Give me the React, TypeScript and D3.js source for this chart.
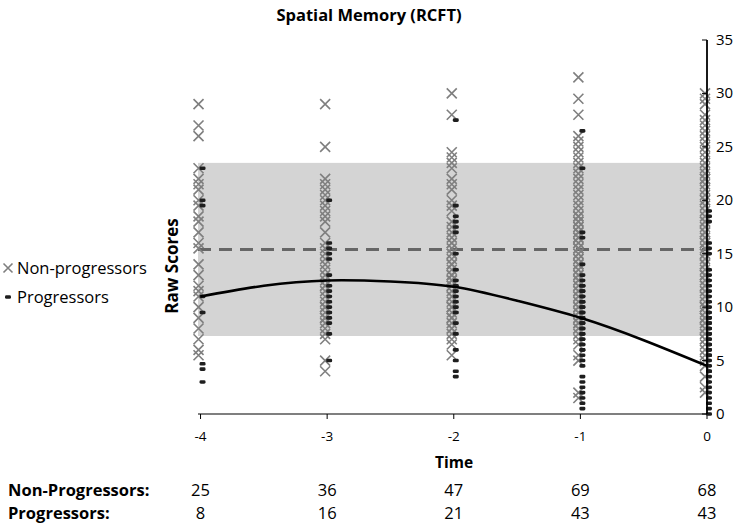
import React from "react";
import * as d3 from "d3";

const TIMES = [-4, -3, -2, -1, 0];
const Y_TICKS = [0, 5, 10, 15, 20, 25, 30, 35];

const NP_M4 = [29, 27, 26, 23, 22, 21.5, 21, 20, 19.5, 18.5, 18, 17, 16, 15.5, 14, 13, 12, 11.5, 11, 10, 9, 8, 7, 6, 5.5];
const NP_M3 = [29, 25, 22, 21.5, 21, 20.5, 20, 19.5, 19, 18.5, 18, 17, 16, 15.5, 15, 14.5, 14, 13.5, 13, 12.5, 12, 12, 11.5, 11, 10.5, 10, 10, 9.5, 9, 9, 8.5, 8, 7, 5, 4, 7.5];
const NP_M2 = [30, 28, 24.5, 24, 23.5, 23, 22, 21.5, 21, 19.5, 19, 18, 17.5, 17, 16.5, 16, 15.5, 15, 15, 14.5, 14, 14, 13.5, 13, 13, 12.5, 12, 12, 11.5, 11, 11, 10.5, 10, 10, 9.5, 9, 9, 8.5, 8, 8, 7.5, 7, 6.5, 5.5, 12.5, 16, 20];
const NP_M1 = [31.5, 29.5, 28, 26, 25.5, 25, 24.5, 24, 23.5, 23, 22, 21.5, 21, 20.5, 19.5, 19, 18.5, 18.5, 18, 18, 17.5, 17.5, 17, 17, 16.5, 16.5, 16, 16, 15.5, 15.5, 15, 15, 14.5, 14.5, 14, 14, 13.5, 13.5, 13, 13, 12.5, 12.5, 12, 12, 11.5, 11.5, 11, 11, 10.5, 10.5, 10, 10, 9.5, 9.5, 9, 9, 8.5, 8.5, 8, 8, 7.5, 7, 6.5, 5.5, 5, 2, 1.5, 22.5, 20];
const NP_0 = [30, 29.5, 29, 28, 27.5, 27, 26.5, 26, 25.5, 25, 24.5, 24, 23.5, 23, 22.5, 22, 21.5, 21, 20.5, 20, 19.5, 19, 18.5, 18, 17.5, 17, 16.5, 16, 15.5, 15, 14.5, 14, 13.5, 13, 12.5, 12, 11.5, 11, 10.5, 10, 9.5, 9, 8.5, 8, 7.5, 7, 6.5, 6, 5.5, 5, 4.5, 2.5, 2, 22, 20, 18, 16, 14, 12, 10, 9, 8, 7, 13, 11, 15, 17, 3.5];

const P_M4 = [23, 20, 19.5, 11, 9.5, 4.7, 4.2, 3];
const P_M3 = [20, 16, 15.5, 15, 14.5, 13, 12, 11.5, 11, 10.5, 10, 9.5, 9, 8.5, 7.5, 5];
const P_M2 = [27.5, 19.5, 18.5, 18, 17.5, 17, 15, 13.5, 12, 11.5, 11, 10.5, 10, 9.5, 8.5, 7.5, 6, 5, 4, 3.5, 12.5];
const P_M1 = [26.5, 23, 17, 16.5, 14, 13, 12.5, 12, 12, 11.5, 11.5, 11, 11, 10.5, 10.5, 10, 10, 9.5, 9.5, 9, 9, 8.5, 8.5, 8, 8, 7.5, 7.5, 7, 7, 6.5, 6.5, 6, 6, 5.5, 5, 4.5, 3.5, 3, 2.5, 2, 1.5, 1, 0.5];
const P_0 = [19, 18.5, 18, 16, 15.5, 15, 13.5, 13, 12.5, 12, 11, 10.5, 10, 9.5, 9, 9, 8.5, 8.5, 8, 8, 7.5, 7.5, 7, 7, 6.5, 6.5, 6, 6, 5.5, 5, 4.5, 4, 3.5, 3, 2.5, 2, 1.5, 1, 0.5, 0, 5.5, 4, 11.5];

const NON_PROGRESSORS = [NP_M4, NP_M3, NP_M2, NP_M1, NP_0];
const PROGRESSORS = [P_M4, P_M3, P_M2, P_M1, P_0];

const NP_COUNTS = [25, 36, 47, 69, 68];
const P_COUNTS = [8, 16, 21, 43, 43];

const BAND = [7.3, 23.5];
const MEAN_LINE = 15.4;

const CURVE_T = [-4, -3.5, -3, -2.5, -2, -1.5, -1, -0.5, 0];
const CURVE_V = [11.0, 12.0, 12.5, 12.4, 11.9, 10.6, 9.0, 6.9, 4.5];

const FONT = "'Open Sans', 'DejaVu Sans', sans-serif";

export default function App() {
  const W = 735, H = 525;
  const x = d3.scaleLinear().domain([-4.02, 0]).range([198, 707]);
  const y = d3.scaleLinear().domain([0, 35]).range([414, 40]);
  const line = d3.line<number>()
    .x((_, i) => x(CURVE_T[i]))
    .y((d) => y(d))
    .curve(d3.curveNatural);

  const cross = (cx: number, cy: number, key: string, s = 5) => (
    <path key={key} d={`M${cx - s},${cy - s}L${cx + s},${cy + s}M${cx - s},${cy + s}L${cx + s},${cy - s}`}
      stroke="#7f7f7f" strokeWidth={1.6} fill="none" />
  );
  const dash = (cx: number, cy: number, key: string) => (
    <rect key={key} x={cx - 3} y={cy - 1.8} width={6} height={3.6} rx={1.4} fill="#1e1e1e" />
  );

  return (
    <svg width={W} height={H} style={{ position: "absolute", left: 0, top: 0 }} fontFamily={FONT}>
      <rect width={W} height={H} fill="#fff" />
      <text x={369} y={21} textAnchor="middle" fontSize={16.5} fontWeight="bold">Spatial Memory (RCFT)</text>

      {/* band */}
      <rect x={x(-4.02)} y={y(BAND[1])} width={x(0) - x(-4.02)} height={y(BAND[0]) - y(BAND[1])} fill="#d4d4d4" />
      <line x1={x(-4.02)} x2={x(0)} y1={y(MEAN_LINE)} y2={y(MEAN_LINE)} stroke="#666" strokeWidth={3} strokeDasharray="13 8" />

      {/* x axis */}
      <line x1={x(-4.02)} x2={x(0)} y1={y(0)} y2={y(0)} stroke="#000" strokeWidth={1.2} />
      {TIMES.map((t) => (
        <g key={`xt${t}`}>
          <line x1={x(t)} x2={x(t)} y1={y(0)} y2={y(0) + 5} stroke="#000" strokeWidth={1} />
          <text x={x(t)} y={y(0) + 27} textAnchor="middle" fontSize={13.5}>{t}</text>
        </g>
      ))}
      <text x={454} y={468} textAnchor="middle" fontSize={15.5} fontWeight="bold">Time</text>

      {/* points */}
      {NON_PROGRESSORS.map((arr, i) => arr.map((v, j) => cross(x(TIMES[i]) - 2, y(v), `np${i}-${j}`)))}
      {PROGRESSORS.map((arr, i) => arr.map((v, j) => dash(x(TIMES[i]) + 2, y(v), `p${i}-${j}`)))}

      {/* curve */}
      <path d={line(CURVE_V) || ""} fill="none" stroke="#000" strokeWidth={2.6} />

      {/* y axis (right) */}
      <line x1={x(0)} x2={x(0)} y1={y(0)} y2={y(35)} stroke="#000" strokeWidth={1.8} />
      {Y_TICKS.map((v) => (
        <g key={`yt${v}`}>
          <line x1={x(0) - 5} x2={x(0)} y1={y(v)} y2={y(v)} stroke="#000" strokeWidth={1} />
          <text x={x(0) + 9} y={y(v) + 5} fontSize={15}>{v}</text>
        </g>
      ))}
      <text transform={`translate(178,266) rotate(-90)`} textAnchor="middle" fontSize={17} fontWeight="bold">Raw Scores</text>

      {/* legend */}
      {cross(8, 268, "lg1", 4.5)}
      <text x={17} y={274} fontSize={16.5}>Non-progressors</text>
      {dash(8, 297, "lg2")}
      <text x={17} y={303} fontSize={16.5}>Progressors</text>

      {/* table */}
      <text x={8} y={496} fontSize={16.5} fontWeight="bold">Non-Progressors:</text>
      <text x={8} y={519} fontSize={16.5} fontWeight="bold">Progressors:</text>
      {TIMES.map((t, i) => (
        <g key={`tb${t}`}>
          <text x={x(t)} y={496} textAnchor="middle" fontSize={16.5}>{NP_COUNTS[i]}</text>
          <text x={x(t)} y={519} textAnchor="middle" fontSize={16.5}>{P_COUNTS[i]}</text>
        </g>
      ))}
    </svg>
  );
}
